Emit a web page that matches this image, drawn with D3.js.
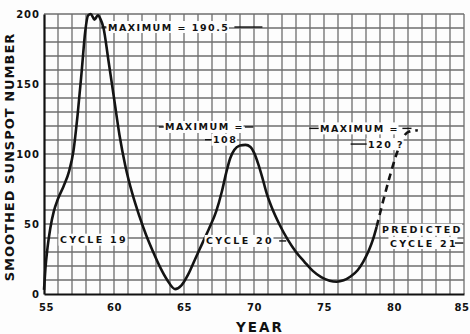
<!DOCTYPE html>
<html><head><meta charset="utf-8">
<script src="https://cdn.jsdelivr.net/npm/d3@7"></script>
<style>
html,body{margin:0;padding:0;background:#fff;}
svg{display:block;font-family:"DejaVu Sans",sans-serif;font-weight:bold;}
</style></head><body>
<svg id="c" width="470" height="334"></svg>
<script>
// Observed smoothed sunspot number (cycles 19 and 20)
const cycleYears  = [55.0,55.1,55.25,55.45,55.7,56.0,56.4,56.8,57.1,57.4,57.7,57.95,58.15,58.35,58.6,58.85,59.05,59.25,59.6,60.0,60.4,60.8,61.3,61.8,62.3,62.8,63.3,63.8,64.36,64.8,65.3,65.8,66.3,66.8,67.3,67.7,68.0,68.3,68.6,69.0,69.4,69.75,70.0,70.3,70.6,70.9,71.3,71.8,72.4,73.0,73.6,74.2,74.8,75.4,75.9,76.4,76.9,77.4,77.8,78.2,78.5,78.76];
const cycleValues = [3,18,33,47,59,68,77,88,102,128,160,188,199,200,196,199,196,190,167,140,113,92,72,56,42,30,19,10,3.5,6,14,25,36,47,59,73,86,97,103,106,106.5,105,101,93,83,72,61,50,39,30,23,16.5,12,9.5,8.8,9.8,12.5,17,23,31,39,48];
// Predicted rise of cycle 21 (dashed)
const predictedYears  = [78.76,79.24,79.7,80.2,80.66,81.1,81.7];
const predictedValues = [48,67,84,100.5,112,116,117];
// Axis ticks
const xTickLabels = [55,60,65,70,75,80,85];
const yTickLabels = [0,50,100,150,200];
// Annotation texts (anchored in data coordinates: start year, centre value)
const labelTexts  = ["MAXIMUM = 190.5","MAXIMUM =","108","MAXIMUM =","120 ?","CYCLE 19","CYCLE 20","PREDICTED","CYCLE 21"];
const labelYears  = [59.57,63.64,67.07,74.71,78.14,56.14,66.57,79.14,79.71];
const labelValues = [190.7,119.3,110.2,118.3,107.1,38.8,37.9,45.9,36.4];
const labelKinds  = ["max","max","max","max","max","cyc","cyc","cyc","cyc"];
// Leader lines [year1, value1, year2, value2]
const leaders = [
  [59.1,190.7,59.45,190.7],[68.6,190.7,70.6,190.7],
  [63.2,119.3,63.55,119.3],[69.35,119.3,69.95,119.3],[66.5,110.2,66.98,110.2],
  [73.95,118.3,74.62,118.3],[80.6,118.3,81.25,118.3],[76.9,107.1,78.05,107.1],
  [71.8,37.9,72.3,37.9],[84.35,36.4,84.95,36.4]
];

const W=470,H=334, m={l:44,r:6,t:14,b:40};
const svg=d3.select("#c");
svg.append("rect").attr("width",W).attr("height",H).attr("fill","#fdfdfd");
const x=d3.scaleLinear().domain([55,85]).range([m.l,W-m.r]);
const y=d3.scaleLinear().domain([0,200]).range([H-m.b,m.t]);

// grid
const g=svg.append("g");
g.selectAll("line.v").data(d3.range(56,86,1)).join("line")
  .attr("x1",d=>x(d)).attr("x2",d=>x(d)).attr("y1",y(0)).attr("y2",y(200))
  .attr("stroke","#6e6e6e").attr("stroke-width",1.3);
g.selectAll("line.h").data(d3.range(10,201,10)).join("line")
  .attr("y1",d=>y(d)).attr("y2",d=>y(d)).attr("x1",x(55)).attr("x2",x(85))
  .attr("stroke","#6e6e6e").attr("stroke-width",1.3);

// axes
const ax=svg.append("g").attr("transform",`translate(0,${y(0)})`)
  .call(d3.axisBottom(x).tickValues(xTickLabels).tickSize(0).tickPadding(9.5).tickFormat(d3.format("d")));
const ay=svg.append("g").attr("transform",`translate(${x(55)},0)`)
  .call(d3.axisLeft(y).tickValues(yTickLabels).tickSize(0).tickPadding(4).tickFormat(d3.format("d")));
[ax,ay].forEach(a=>{
  a.select(".domain").attr("stroke","#111").attr("stroke-width",2.2);
  a.selectAll("text").attr("font-family","DejaVu Sans").attr("font-weight","bold")
   .attr("font-size",10).attr("fill","#111");
});
ay.selectAll("text").attr("letter-spacing",1);
ax.selectAll("text").attr("letter-spacing",0.5).attr("dx",(d,i,n)=>i===n.length-1?-2.5:(i===0?2:0));

// curves
const line=d3.line().x(d=>x(d[0])).y(d=>y(d[1])).curve(d3.curveMonotoneX);
svg.append("path").datum(d3.zip(cycleYears,cycleValues)).attr("d",line)
  .attr("fill","none").attr("stroke","#141414").attr("stroke-width",2.6).attr("stroke-linejoin","round");
svg.append("path").datum(d3.zip(predictedYears,predictedValues)).attr("d",line)
  .attr("fill","none").attr("stroke","#141414").attr("stroke-width",2.6).attr("stroke-dasharray","7,5");

// annotations
const ann=svg.append("g");
labelTexts.forEach((t,i)=>{
  const grp=ann.append("g");
  const rect=grp.append("rect").attr("fill","#fdfdfd");
  const tx=grp.append("text").text(t).attr("x",x(labelYears[i])).attr("y",y(labelValues[i]))
    .attr("dominant-baseline","central").attr("font-size",9.5).attr("fill","#111")
    .attr("letter-spacing",labelKinds[i]==="max"?1.5:2.3);
  const b=tx.node().getBBox();
  rect.attr("x",b.x-1.5).attr("y",b.y-0.5).attr("width",b.width+1).attr("height",b.height+1);
});
ann.selectAll("line").data(leaders).join("line")
  .attr("x1",d=>x(d[0])).attr("y1",d=>y(d[1])).attr("x2",d=>x(d[2])).attr("y2",d=>y(d[3]))
  .attr("stroke","#111").attr("stroke-width",1.4);

// titles
svg.append("text").text("YEAR").attr("x",260).attr("y",327).attr("text-anchor","middle")
  .attr("dominant-baseline","central").attr("font-size",13.5).attr("letter-spacing",2).attr("fill","#111");
svg.append("text").text("SMOOTHED SUNSPOT NUMBER").attr("transform","translate(9,157) rotate(-90)")
  .attr("text-anchor","middle").attr("dominant-baseline","central").attr("font-size",13).attr("letter-spacing",1).attr("fill","#111");
</script></body></html>
